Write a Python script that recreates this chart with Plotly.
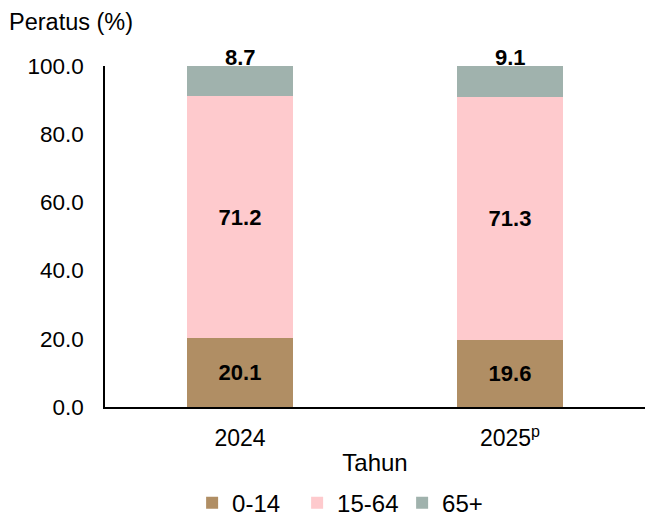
import plotly.graph_objects as go

years = ["2024", "2025<sup>p</sup>"]
groups = ["0-14", "15-64", "65+"]
v_0_14 = [20.1, 19.6]
v_15_64 = [71.2, 71.3]
v_65 = [8.7, 9.1]
colors = ["#B08E64", "#FECACD", "#A0B2AD"]
yticks = [0, 20, 40, 60, 80, 100]
FONT = "Liberation Sans, Arial"

fig = go.Figure()
series = [v_0_14, v_15_64, v_65]
for i, (name, vals) in enumerate(zip(groups, series)):
    fig.add_trace(go.Bar(
        x=years, y=vals, name=name,
        marker=dict(color=colors[i], line=dict(width=0)),
        text=[f"<b>{v:.1f}</b>" for v in vals] if i < 2 else None,
        textposition="inside" if i < 2 else "none",
        insidetextanchor="middle",
        textfont=dict(family=FONT, size=22, color="black"),
        hoverinfo="skip",
    ))

for idx, (a, b, c) in enumerate(zip(v_0_14, v_15_64, v_65)):
    fig.add_annotation(x=idx, y=min(a + b + c, 100), text=f"<b>{c:.1f}</b>", showarrow=False,
                       yanchor="bottom", yshift=-6,
                       font=dict(family=FONT, size=22, color="black"))

fig.add_annotation(xref="paper", yref="paper", x=-0.182, y=1.129, text="Peratus (%)",
                   showarrow=False, xanchor="left", yanchor="middle",
                   font=dict(family=FONT, size=23.5, color="black"))

fig.update_layout(
    barmode="stack", bargap=0.604,
    width=645, height=518,
    margin=dict(l=105, r=0, t=66, b=111, autoexpand=False),
    plot_bgcolor="white", paper_bgcolor="white",
    font=dict(family=FONT, size=22, color="black"),
    showlegend=True,
    legend=dict(orientation="h", x=0.453, xanchor="center", y=-0.282, yanchor="middle",
                font=dict(size=24), traceorder="normal", itemwidth=30,
                entrywidth=60, tracegroupgap=0),
    xaxis=dict(type="category", range=[-0.5, 1.5], showline=True, linecolor="black",
               linewidth=1.5, ticks="", automargin=False,
               title=dict(text="Tahun", standoff=4, font=dict(size=24)),
               tickfont=dict(size=23), ticklabelstandoff=10),
    yaxis=dict(range=[0, 100], tickvals=yticks, ticktext=[f"{t:.1f}" for t in yticks],
               showline=True, linecolor="black", linewidth=1.5, showgrid=False,
               zeroline=False, ticks="", ticklabelstandoff=15, tickfont=dict(size=22.5),
               automargin=False),
)
fig.update_traces(cliponaxis=False)
fig.write_html("out.html", config={"displayModeBar": False},
               post_script="document.body.style.margin='0';")
